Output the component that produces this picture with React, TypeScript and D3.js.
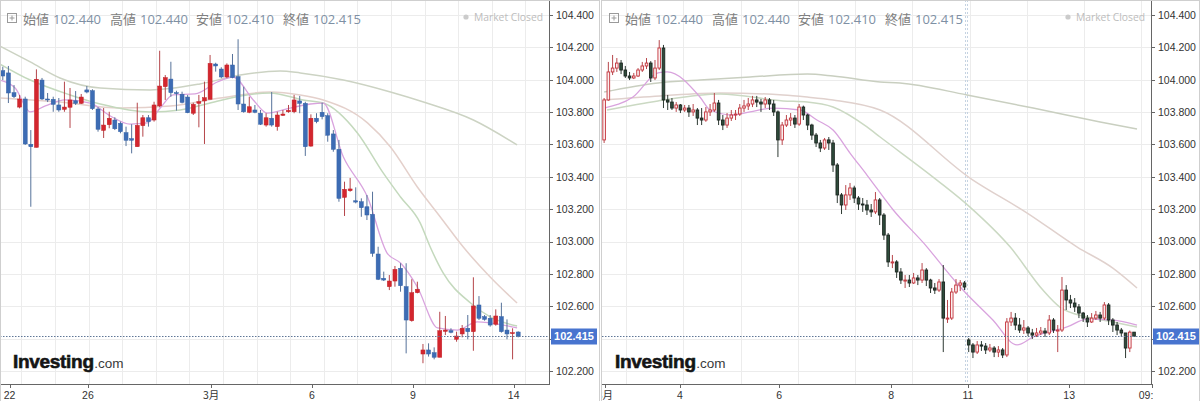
import React, { useEffect } from 'react'
import * as d3 from 'd3'

// quote shown in the header of both panels
const quoteLabels = ['始値', '高値', '安値', '終値']
const quoteValues = ['102.440', '102.440', '102.410', '102.415']
const lastPrice = 102.415
const priceTicks = [104.4, 104.2, 104.0, 103.8, 103.6, 103.4, 103.2, 103.0, 102.8, 102.6, 102.4, 102.2]

// ---- left panel (longer bars, 22 -> 14) ----
const leftOpen = [
  104.056, 104.042, 103.92, 103.831, 103.881, 103.601, 103.582, 103.998, 103.881, 103.879,
  103.844, 103.817, 103.83, 103.87, 103.854, 103.937, 103.932, 103.819, 103.687, 103.722,
  103.751, 103.731, 103.673, 103.636, 103.586, 103.716, 103.765, 103.751, 103.838, 103.957,
  104.004, 103.92, 103.91, 103.893, 103.793, 103.854, 103.869, 103.879, 104.097, 104.066,
  104.017, 104.091, 104.019, 103.85, 103.799, 103.813, 103.793, 103.72, 103.762, 103.71,
  103.78, 103.802, 103.802, 103.869, 103.854, 103.59, 103.762, 103.799, 103.778, 103.665,
  103.57, 103.273, 103.314, 103.252, 103.246, 103.215, 103.168, 102.923, 102.773, 102.721,
  102.756, 102.835, 102.721, 102.511, 102.684, 102.305, 102.33, 102.313, 102.285, 102.445,
  102.449, 102.396, 102.429, 102.464, 102.443, 102.608, 102.536, 102.526, 102.489, 102.536,
  102.453, 102.431, 102.441,
]
const leftHigh = [
  104.08, 104.085, 103.967, 103.906, 103.895, 103.689, 104.064, 104.011, 103.918, 103.895,
  103.887, 103.988, 103.949, 103.93, 103.912, 103.961, 103.941, 103.83, 103.825, 103.802,
  103.768, 103.741, 103.71, 103.725, 103.858, 103.782, 103.782, 103.864, 104.179, 104.029,
  104.111, 103.932, 103.926, 103.906, 103.858, 103.906, 103.988, 104.153, 104.105, 104.077,
  104.101, 104.159, 104.25, 103.957, 103.895, 103.844, 103.813, 103.793, 103.924, 103.802,
  103.813, 103.844, 103.906, 103.9, 103.864, 103.786, 103.793, 103.858, 103.793, 103.689,
  103.628, 103.37, 103.393, 103.335, 103.267, 103.288, 103.308, 102.968, 102.814, 102.793,
  102.849, 102.866, 102.866, 102.767, 102.752, 102.367, 102.371, 102.346, 102.566, 102.54,
  102.464, 102.443, 102.484, 102.546, 102.779, 102.663, 102.546, 102.546, 102.581, 102.622,
  102.519, 102.464, 102.445,
]
const leftLow = [
  103.998, 103.856, 103.887, 103.823, 103.597, 103.215, 103.582, 103.875, 103.862, 103.802,
  103.802, 103.802, 103.702, 103.844, 103.85, 103.916, 103.813, 103.679, 103.64, 103.7,
  103.689, 103.669, 103.59, 103.545, 103.586, 103.648, 103.71, 103.741, 103.83, 103.875,
  103.895, 103.809, 103.854, 103.793, 103.782, 103.706, 103.603, 103.879, 104.05, 104.009,
  104.009, 104.009, 103.813, 103.796, 103.793, 103.793, 103.72, 103.71, 103.71, 103.685,
  103.776, 103.796, 103.793, 103.793, 103.529, 103.586, 103.731, 103.755, 103.617, 103.555,
  103.246, 103.158, 103.308, 103.236, 103.153, 103.133, 102.906, 102.762, 102.756, 102.7,
  102.721, 102.69, 102.309, 102.505, 102.68, 102.248, 102.289, 102.272, 102.285, 102.422,
  102.433, 102.381, 102.408, 102.396, 102.325, 102.515, 102.511, 102.474, 102.48, 102.437,
  102.396, 102.272, 102.408,
]
const leftClose = [
  104.023, 103.918, 103.895, 103.881, 103.603, 103.586, 104.003, 103.881, 103.875, 103.848,
  103.813, 103.831, 103.875, 103.854, 103.893, 103.924, 103.821, 103.694, 103.72, 103.762,
  103.697, 103.679, 103.626, 103.626, 103.718, 103.765, 103.741, 103.844, 103.961, 104.013,
  103.92, 103.914, 103.86, 103.796, 103.848, 103.864, 103.889, 104.101, 104.085, 104.017,
  104.091, 104.013, 103.85, 103.802, 103.833, 103.799, 103.725, 103.765, 103.72, 103.782,
  103.788, 103.811, 103.875, 103.854, 103.586, 103.762, 103.741, 103.772, 103.657, 103.57,
  103.267, 103.323, 103.325, 103.244, 103.209, 103.164, 102.927, 102.767, 102.762, 102.756,
  102.828, 102.727, 102.515, 102.684, 102.705, 102.33, 102.305, 102.285, 102.449, 102.453,
  102.439, 102.416, 102.464, 102.443, 102.602, 102.526, 102.519, 102.484, 102.54, 102.443,
  102.429, 102.437, 102.415,
]
const leftTickAt = [1.2, 15.2, 37.2, 55.2, 73.2, 91.2]
const leftTickText = ['22', '26', '3月', '6', '9', '14']

// moving averages as [bar index, price]
const leftMaShort = [
  [-0.5, 103.998], [2.2, 103.949], [4.9, 103.801], [7.6, 103.838], [11.1, 103.875], [15.6, 103.856],
  [19.2, 103.776], [22.7, 103.726], [25.8, 103.733], [28.1, 103.825], [30.4, 103.906], [34.3, 103.912],
  [38.3, 103.986], [41.1, 104.017], [44.7, 103.875], [47.2, 103.794], [51.3, 103.825], [54.9, 103.85],
  [57.2, 103.856], [60.8, 103.522], [65.1, 103.275], [68.6, 102.929], [71.0, 102.867], [74.0, 102.719],
  [77.6, 102.466], [81.1, 102.453], [84.7, 102.503], [89.3, 102.484], [91.8, 102.466],
]
const leftMaMid = [
  [-0.5, 104.097], [4.9, 103.998], [12.0, 103.906], [17.4, 103.85], [26.3, 103.801], [31.7, 103.813],
  [37.0, 103.856], [42.4, 103.9], [47.7, 103.918], [53.6, 103.875], [57.2, 103.856], [63.3, 103.671],
  [67.9, 103.424], [71.0, 103.275], [74.5, 103.115], [76.3, 102.966], [78.6, 102.806], [83.5, 102.62],
  [87.0, 102.534], [91.8, 102.478],
]
const leftMaSlow = [
  [-0.5, 103.887], [10.2, 103.862], [20.9, 103.825], [29.9, 103.838], [38.8, 103.887], [47.7, 103.924],
  [53.1, 103.906], [57.2, 103.875], [65.1, 103.733], [69.2, 103.584], [74.0, 103.337], [78.1, 103.152],
  [82.2, 102.966], [87.0, 102.781], [91.8, 102.62],
]
const leftMaLong = [
  [-0.5, 104.208], [4.9, 104.11], [10.2, 104.011], [17.4, 103.949], [26.3, 103.937], [35.2, 103.974],
  [42.4, 104.029], [49.5, 104.054], [53.1, 104.042], [60.8, 103.998], [69.2, 103.924], [75.1, 103.862],
  [84.0, 103.751], [91.8, 103.597],
]

// ---- right panel (2h bars, 3月 -> 14 09:00) ----
const rightFirstOpen = 103.628
const rightGapAt = 86
const rightGapOpen = 102.392
const rightClose = [
  103.875, 104.048, 104.072, 104.103, 104.06, 104.023, 104.011, 104.023, 104.06, 104.085,
  104.103, 104.011, 104.072, 104.196, 103.875, 103.862, 103.825, 103.844, 103.813, 103.825,
  103.801, 103.813, 103.763, 103.751, 103.801, 103.813, 103.856, 103.751, 103.72, 103.763,
  103.782, 103.788, 103.825, 103.838, 103.85, 103.875, 103.862, 103.85, 103.875, 103.85,
  103.801, 103.628, 103.72, 103.751, 103.763, 103.726, 103.831, 103.782, 103.72, 103.658,
  103.609, 103.578, 103.628, 103.609, 103.473, 103.288, 103.226, 103.288, 103.331, 103.269,
  103.232, 103.226, 103.195, 103.183, 103.257, 103.164, 103.04, 102.874, 102.874, 102.812,
  102.762, 102.762, 102.744, 102.775, 102.762, 102.824, 102.762, 102.713, 102.7, 102.75,
  102.527, 102.527, 102.688, 102.731, 102.744, 102.719, 102.361, 102.317, 102.361, 102.354,
  102.33, 102.342, 102.317, 102.33, 102.299, 102.503, 102.527, 102.484, 102.453, 102.466,
  102.435, 102.422, 102.435, 102.447, 102.435, 102.515, 102.453, 102.453, 102.7, 102.639,
  102.62, 102.596, 102.558, 102.527, 102.503, 102.527, 102.546, 102.527, 102.608, 102.515,
  102.484, 102.453, 102.435, 102.342, 102.44, 102.415,
]
const rightHigh = [
  103.887, 104.11, 104.153, 104.134, 104.122, 104.085, 104.048, 104.042, 104.072, 104.11,
  104.134, 104.115, 104.122, 104.245, 104.215, 103.906, 103.887, 103.862, 103.85, 103.844,
  103.844, 103.85, 103.825, 103.825, 103.831, 103.85, 103.918, 103.875, 103.782, 103.794,
  103.813, 103.813, 103.85, 103.875, 103.887, 103.9, 103.9, 103.881, 103.893, 103.887,
  103.875, 103.81, 103.739, 103.782, 103.794, 103.782, 103.85, 103.84, 103.79, 103.728,
  103.671, 103.628, 103.64, 103.646, 103.628, 103.485, 103.3, 103.349, 103.362, 103.345,
  103.281, 103.269, 103.257, 103.232, 103.306, 103.269, 103.176, 103.053, 102.917, 102.885,
  102.836, 102.793, 102.793, 102.806, 102.793, 102.867, 102.836, 102.77, 102.744, 102.768,
  102.855, 102.639, 102.713, 102.768, 102.762, 102.756, 102.404, 102.373, 102.385, 102.385,
  102.373, 102.367, 102.354, 102.354, 102.342, 102.527, 102.565, 102.558, 102.527, 102.515,
  102.478, 102.46, 102.466, 102.472, 102.466, 102.546, 102.527, 102.484, 102.781, 102.731,
  102.67, 102.651, 102.614, 102.565, 102.546, 102.558, 102.571, 102.565, 102.626, 102.62,
  102.527, 102.503, 102.466, 102.435, 102.45, 102.44,
]
const rightLow = [
  103.609, 103.87, 104.029, 104.048, 104.035, 104.011, 103.998, 104.004, 104.017, 104.048,
  104.066, 103.986, 103.998, 104.06, 103.825, 103.813, 103.813, 103.801, 103.794, 103.801,
  103.77, 103.776, 103.72, 103.72, 103.74, 103.776, 103.801, 103.72, 103.689, 103.702,
  103.745, 103.751, 103.776, 103.801, 103.813, 103.831, 103.831, 103.801, 103.825, 103.813,
  103.776, 103.522, 103.597, 103.708, 103.714, 103.702, 103.715, 103.751, 103.689, 103.628,
  103.584, 103.553, 103.566, 103.566, 103.43, 103.238, 103.17, 103.195, 103.257, 103.238,
  103.195, 103.183, 103.164, 103.152, 103.17, 103.102, 103.01, 102.843, 102.836, 102.775,
  102.738, 102.713, 102.719, 102.738, 102.731, 102.744, 102.725, 102.682, 102.676, 102.688,
  102.317, 102.497, 102.515, 102.676, 102.694, 102.7, 102.317, 102.28, 102.305, 102.324,
  102.305, 102.317, 102.286, 102.286, 102.28, 102.286, 102.478, 102.453, 102.435, 102.429,
  102.416, 102.398, 102.41, 102.422, 102.41, 102.422, 102.435, 102.317, 102.441, 102.577,
  102.589, 102.565, 102.527, 102.503, 102.472, 102.497, 102.515, 102.503, 102.515, 102.484,
  102.441, 102.422, 102.41, 102.28, 102.317, 102.41,
]
const rightTickAt = [0.2, 17.9, 41.3, 67.7, 85.8, 109.7, 129.2]
const rightTickText = ['3月', '4', '6', '8', '11', '13', '09:00']

const rightMaShort = [
  [0, 103.825], [6.8, 103.893], [12.7, 104.042], [14.9, 104.048], [22.6, 103.893], [25.0, 103.813],
  [30.4, 103.782], [34.4, 103.801], [39.9, 103.825], [46.2, 103.813], [50.2, 103.751], [54.0, 103.689],
  [58.0, 103.547], [62.0, 103.411], [68.2, 103.195], [76.2, 102.966], [80.0, 102.843], [84.0, 102.719],
  [91.7, 102.515], [97.4, 102.361], [101.2, 102.41], [109.2, 102.472], [113.9, 102.521], [120.0, 102.515],
  [125.7, 102.484],
]
const rightMaMid = [
  [0.7, 103.813], [12.7, 103.869], [27.4, 103.912], [42.2, 103.869], [47.9, 103.862], [54.0, 103.831],
  [62.0, 103.708], [65.1, 103.646], [78.5, 103.38], [86.3, 103.213], [95.8, 102.966], [103.5, 102.7],
  [107.5, 102.595], [113.9, 102.534], [120.0, 102.503], [125.7, 102.472],
]
const rightMaSlow = [
  [0, 103.875], [13.2, 103.9], [27.4, 103.918], [42.2, 103.906], [47.9, 103.893], [54.0, 103.875],
  [65.1, 103.813], [87.0, 103.38], [99.8, 103.176], [111.6, 102.966], [120.0, 102.836], [125.7, 102.713],
]
const rightMaLong = [
  [0, 103.924], [12.7, 103.98], [22.6, 103.998], [34.4, 104.017], [47.9, 104.035], [54.0, 104.023],
  [65.1, 103.986], [69.8, 103.98], [85.6, 103.906], [101.2, 103.825], [117.0, 103.739], [125.7, 103.695],
]

type Bar = { i: number; o: number; h: number; l: number; c: number }
type Look = { fill: string; stroke: string; wick: string; sw: number }

const axisFont = "'Liberation Sans', Arial, sans-serif"
const quoteFont = "'Open Sans', 'Noto Sans CJK JP', sans-serif"
const cjkFont = "'Noto Sans CJK JP', sans-serif"

function Panel(props: {
  ox: number
  frame: [number, number]
  xMax: number
  bars: Bar[]
  lines: { pts: number[][]; color: string; w: number }[]
  tickAt: number[]
  tickText: string[]
  grid: number[]
  breaks: number[]
  bodyW: number
  up: Look
  down: Look
  id: string
}) {
  const { ox, bars, bodyW, up, down, id } = props
  const plotR = ox + 549
  const plotB = 384
  const x = d3.scaleLinear().domain([-0.5, props.xMax]).range([ox, plotR])
  const y = d3.scaleLinear().domain([102.2, 104.4]).range([371, 15])
  const line = d3
    .line<number[]>()
    .x((d) => x(d[0]))
    .y((d) => y(d[1]))
    .curve(d3.curveMonotoneX)
  const qx = [23, 110, 196, 283]

  return (
    <g>
      <defs>
        <clipPath id={id + '-plot'}>
          <rect x={ox} y={0} width={549} height={plotB} />
        </clipPath>
        <clipPath id={id + '-xl'}>
          <rect x={ox} y={plotB} width={551} height={20} />
        </clipPath>
      </defs>

      {/* grid */}
      <g stroke="#ececec" strokeWidth={1}>
        {props.grid.map((g) => (
          <line key={'v' + g} x1={Math.round(x(g)) + 0.5} x2={Math.round(x(g)) + 0.5} y1={0} y2={plotB} />
        ))}
        {priceTicks.map((p) => (
          <line key={'h' + p} x1={ox} x2={plotR} y1={Math.round(y(p)) + 0.5} y2={Math.round(y(p)) + 0.5} />
        ))}
      </g>
      {props.breaks.map((b) => (
        <g key={'b' + b} stroke="#c5d3e2" strokeWidth={1} strokeDasharray="2,2">
          <line x1={Math.round(x(b)) - 0.5} x2={Math.round(x(b)) - 0.5} y1={0} y2={plotB} />
          <line x1={Math.round(x(b)) + 1.5} x2={Math.round(x(b)) + 1.5} y1={0} y2={plotB} />
        </g>
      ))}

      {/* watermark */}
      <text x={ox + 13} y={368} fontFamily={axisFont}>
        <tspan fontWeight="bold" fontSize={19} letterSpacing={-0.3} fill="#151515" stroke="#151515" strokeWidth={0.6}>
          Investing
        </tspan>
        <tspan fontSize={13.5} fill="#3a3a3a" dx={0.5}>
          .com
        </tspan>
      </text>

      <g clipPath={`url(#${id}-plot)`}>
        {props.lines.map((l, k) => (
          <path key={k} d={line(l.pts) || ''} fill="none" stroke={l.color} strokeWidth={l.w} />
        ))}
        {bars.map((d) => {
          const st = d.c >= d.o ? up : down
          const cx = x(d.i)
          const top = y(Math.max(d.o, d.c))
          const bot = y(Math.min(d.o, d.c))
          return (
            <g key={d.i}>
              <line
                x1={cx}
                x2={cx}
                y1={y(Math.max(d.h, d.o, d.c))}
                y2={y(Math.min(d.l, d.o, d.c))}
                stroke={st.wick}
                strokeWidth={1}
              />
              <rect
                x={cx - bodyW / 2}
                y={top}
                width={bodyW}
                height={Math.max(1, bot - top)}
                fill={st.fill}
                stroke={st.stroke}
                strokeWidth={st.sw}
              />
            </g>
          )
        })}
      </g>

      {/* last price line */}
      <line
        x1={ox}
        x2={plotR}
        y1={Math.round(y(lastPrice)) + 0.5}
        y2={Math.round(y(lastPrice)) + 0.5}
        stroke="#5f7696"
        strokeWidth={1}
        strokeDasharray="1.5,1.5"
      />

      {/* header */}
      <rect x={ox + 7.5} y={13.5} width={9} height={9} fill="none" stroke="#9a9a9a" strokeWidth={1} />
      <line x1={ox + 12} x2={ox + 12} y1={15.5} y2={20.5} stroke="#9a9a9a" />
      <line x1={ox + 9.5} x2={ox + 14.5} y1={18} y2={18} stroke="#9a9a9a" />
      {quoteLabels.map((q, k) => (
        <g key={q}>
          <text x={ox + qx[k]} y={23.5} fontFamily={cjkFont} fontSize={13} fill="#808080">
            {q}
          </text>
          <text x={ox + qx[k] + 30} y={23.5} fontFamily={quoteFont} fontSize={13} fill="#7e90a4">
            {quoteValues[k]}
          </text>
        </g>
      ))}
      <circle cx={ox + 466} cy={17} r={2.6} fill="#cbcbcb" />
      <text x={ox + 543} y={21} textAnchor="end" fontFamily={quoteFont} fontSize={10.3} fill="#bdbdbd">
        Market Closed
      </text>

      {/* axes */}
      <line x1={plotR + 0.5} x2={plotR + 0.5} y1={0} y2={plotB + 1} stroke="#666" strokeWidth={1} />
      <line x1={ox} x2={plotR + 1} y1={plotB + 0.5} y2={plotB + 0.5} stroke="#666" strokeWidth={1} />
      {priceTicks.map((p) => (
        <g key={'yt' + p}>
          <line x1={plotR} x2={plotR + 4} y1={Math.round(y(p)) + 0.5} y2={Math.round(y(p)) + 0.5} stroke="#666" />
          <text x={plotR + 7} y={y(p)} dy="0.36em" fontFamily={axisFont} fontSize={10.5} fill="#333">
            {d3.format('.3f')(p)}
          </text>
        </g>
      ))}
      <g clipPath={`url(#${id}-xl)`}>
        {props.tickAt.map((t, k) => (
          <g key={'xt' + k}>
            <line x1={Math.round(x(t)) + 0.5} x2={Math.round(x(t)) + 0.5} y1={plotB} y2={plotB + 4} stroke="#666" />
            <text
              x={x(t)}
              y={398.5}
              textAnchor="middle"
              fontFamily={props.tickText[k].includes('月') ? cjkFont : axisFont}
              fontSize={10.5}
              fill="#333"
            >
              {props.tickText[k]}
            </text>
          </g>
        ))}
      </g>
      <rect x={plotR + 2} y={Math.round(y(lastPrice)) - 7.5} width={46} height={16} fill="#4874cf" />
      <text
        x={plotR + 25}
        y={Math.round(y(lastPrice)) + 0.5}
        dy="0.36em"
        textAnchor="middle"
        fontFamily={axisFont}
        fontWeight="bold"
        fontSize={11}
        fill="#fff"
      >
        {d3.format('.3f')(lastPrice)}
      </text>

      {/* frame */}
      <rect
        x={props.frame[0]}
        y={0.5}
        width={props.frame[1] - props.frame[0]}
        height={420}
        fill="none"
        stroke="#cfcfcf"
        strokeWidth={1}
      />
    </g>
  )
}

export default function App() {
  useEffect(() => {
    document.body.style.margin = '0'
  }, [])

  const leftBars: Bar[] = leftOpen.map((o, i) => ({ i, o, h: leftHigh[i], l: leftLow[i], c: leftClose[i] }))
  const rightBars: Bar[] = rightClose.map((c, i) => ({
    i,
    o: i === 0 ? rightFirstOpen : i === rightGapAt ? rightGapOpen : rightClose[i - 1],
    h: rightHigh[i],
    l: rightLow[i],
    c,
  }))

  return (
    <svg width={1200} height={401} style={{ position: 'absolute', left: 0, top: 0, display: 'block', background: '#fff' }}>
      <rect width={1200} height={401} fill="#fff" />
      <Panel
        id="left"
        ox={0}
        frame={[0.5, 599.5]}
        xMax={97.5}
        bars={leftBars}
        lines={[
          { pts: leftMaLong, color: '#ccd3c3', w: 1.5 },
          { pts: leftMaSlow, color: '#e4d0cb', w: 1.5 },
          { pts: leftMaMid, color: '#c4d9bd', w: 1.5 },
          { pts: leftMaShort, color: '#d9a3de', w: 1.3 },
        ]}
        tickAt={leftTickAt}
        tickText={leftTickText}
        grid={d3.range(3.3, 97.5, 6)}
        breaks={[]}
        bodyW={4}
        up={{ fill: '#d3262e', stroke: '#c22027', wick: '#b5454a', sw: 0.5 }}
        down={{ fill: '#3d6cb4', stroke: '#3562a6', wick: '#56729a', sw: 0.5 }}
      />
      <Panel
        id="right"
        ox={602}
        frame={[601.5, 1199.5]}
        xMax={129}
        bars={rightBars}
        lines={[
          { pts: rightMaLong, color: '#c9cfc0', w: 1.5 },
          { pts: rightMaSlow, color: '#e0d1cd', w: 1.5 },
          { pts: rightMaMid, color: '#cbd9c3', w: 1.5 },
          { pts: rightMaShort, color: '#d9a3de', w: 1.3 },
        ]}
        tickAt={rightTickAt}
        tickText={rightTickText}
        grid={d3.range(5.2, 129, 13.5)}
        breaks={[85.3]}
        bodyW={2.6}
        up={{ fill: '#fbeeee', stroke: '#c3323a', wick: '#b8474c', sw: 0.9 }}
        down={{ fill: '#2f4d3c', stroke: '#1b241f', wick: '#2e3a33', sw: 0.9 }}
      />
    </svg>
  )
}
